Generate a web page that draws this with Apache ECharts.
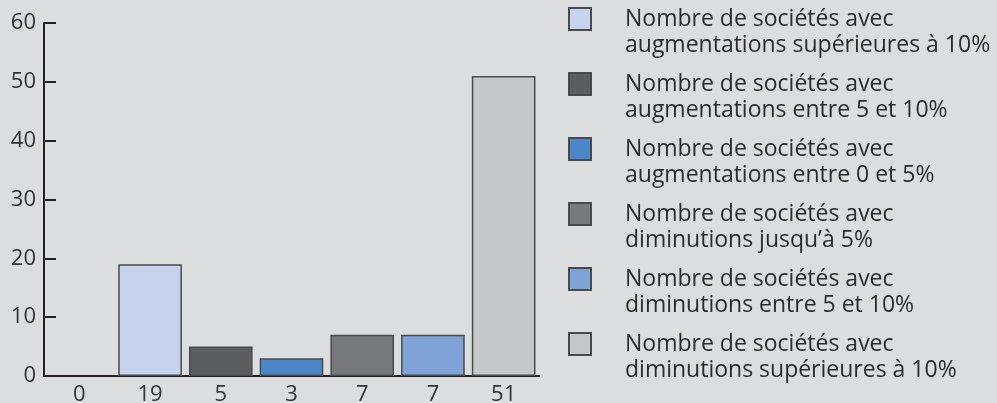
<!DOCTYPE html>
<html>
<head>
<meta charset="utf-8">
<script src="https://cdn.jsdelivr.net/npm/echarts@6/dist/echarts.min.js"></script>
</head>
<body style="margin:0;background:#dcdddf;">
<div id="main" style="width:997px;height:403px;"></div>
<script type="text/javascript">
// étiquettes de l'axe x = nombre de sociétés
var categories = ['0', '19', '5', '3', '7', '7', '51'];
var values = [0, 19, 5, 3, 7, 7, 51];
var seriesNames = [
	'Nombre de sociétés avec\naugmentations supérieures à 10%',
	'Nombre de sociétés avec\naugmentations entre 5 et 10%',
	'Nombre de sociétés avec\naugmentations entre 0 et 5%',
	'Nombre de sociétés avec\ndiminutions jusqu\u2019à 5%',
	'Nombre de sociétés avec\ndiminutions entre 5 et 10%',
	'Nombre de sociétés avec\ndiminutions supérieures à 10%'
];
var colors = ['#c7d3ec', '#5b5c5e', '#4a86c8', '#78797c', '#7fa3d6', '#c6c7c9'];

var myChart = echarts.init(document.getElementById('main'));

var font = '"Open Sans", "Noto Sans", sans-serif';

// une série par catégorie (sauf la première à 0), empilées pour garder une seule colonne
var series = seriesNames.map(function (name, i) {
	var data = values.map(function (v, j) { return j === i + 1 ? v : '-'; });
	return {
		name: name,
		type: 'bar',
		stack: 'total',
		barWidth: '90%',
		data: data,
		itemStyle: {
			color: colors[i],
			borderColor: '#4a4a4c',
			borderWidth: 1.5
		}
	};
});

option = {
	backgroundColor: '#dcdddf',
	animation: false,
	grid: { left: 44, right: 458, top: 23, bottom: 27, outerBoundsMode: 'none' },
	legend: {
		orient: 'vertical',
		left: 568,
		top: -20,
		height: 440,
		padding: 0,
		itemWidth: 22,
		itemHeight: 22,
		itemGap: -13,
		icon: 'rect',
		data: seriesNames,
		// ligne vide en tête : le carré s'aligne sur la première ligne du texte
		formatter: function (name) { return ' \n' + name; },
		textStyle: {
			fontFamily: font,
			fontSize: 23,
			lineHeight: 26,
			color: '#2b2b2b',
			padding: [0, 0, 0, 29]
		}
	},
	xAxis: {
		type: 'category',
		data: categories,
		axisLine: { lineStyle: { color: '#231f20', width: 2 } },
		axisTick: { show: false },
		axisLabel: { fontFamily: font, fontSize: 22, color: '#333', margin: 8 }
	},
	yAxis: {
		type: 'value',
		min: 0,
		max: 60,
		interval: 10,
		splitLine: { show: false },
		axisLine: { show: true, lineStyle: { color: '#231f20', width: 2 } },
		axisTick: { show: true, inside: true, length: 12, lineStyle: { color: '#231f20', width: 2 } },
		axisLabel: { fontFamily: font, fontSize: 22, color: '#333', margin: 8 }
	},
	series: series
};

myChart.setOption(option);
</script>
</body>
</html>
